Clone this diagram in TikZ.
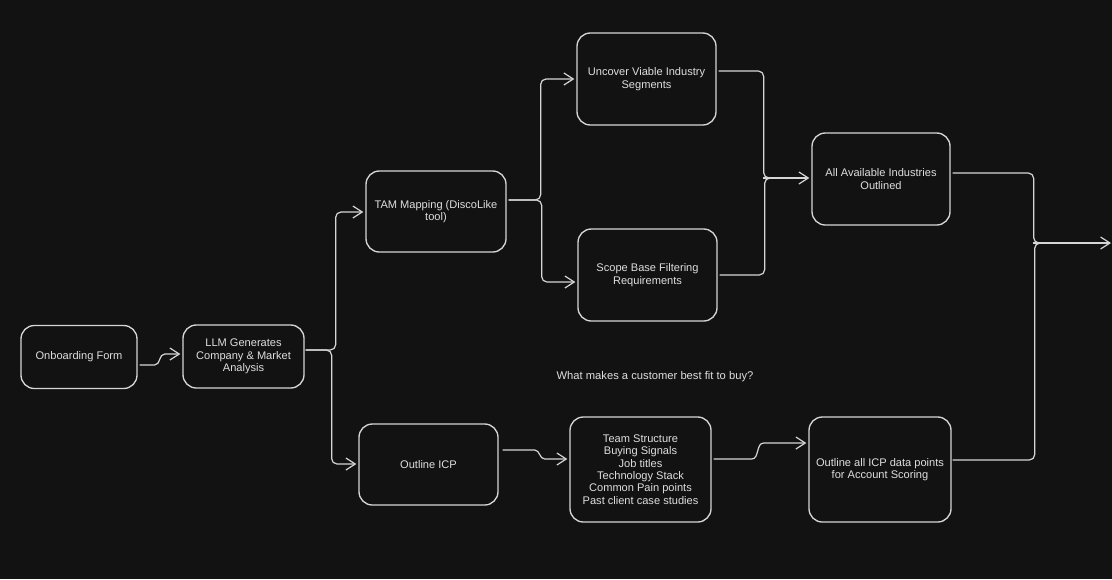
\documentclass[tikz,border=0pt]{standalone}
\usepackage{fontspec}
\setmainfont{Liberation Sans}
\usetikzlibrary{arrows.meta,calc}
\definecolor{bg}{HTML}{121212}
\definecolor{ink}{HTML}{D6D6D6}
\definecolor{txt}{HTML}{DEDEDE}
\begin{document}
\begin{tikzpicture}[x=0.75pt,y=-0.75pt,
  box/.style={draw=ink, line width=1pt, fill=bg, rounded corners=10pt, align=center,
    text=txt, font=\fontsize{8.3}{9.3}\selectfont, inner sep=2pt},
  tip/.style={-{Straight Barb[length=7pt,width=9pt,line width=0.9pt]}},
  conn/.style={draw=ink, line width=0.9pt, rounded corners=4pt, tip},
  curvy/.style={draw=ink, line width=0.9pt, tip},
  plain/.style={draw=ink, line width=0.9pt, rounded corners=4pt}]
\fill[bg] (0,0) rectangle (1112,579);
\useasboundingbox (0,0) rectangle (1112,579);

\node[box, minimum width=87pt, minimum height=47.25pt] (onb) at (79,357) {Onboarding Form};
\node[box, minimum width=90.75pt, minimum height=47.25pt] (llm) at (243.5,356.5) {LLM Generates\\Company \& Market\\Analysis};
\node[box, minimum width=105pt, minimum height=60.75pt] (tam) at (436,211.5) {TAM Mapping (DiscoLike\\tool)};
\node[box, minimum width=104.25pt, minimum height=69pt] (unc) at (646.5,79) {Uncover Viable Industry\\Segments};
\node[box, minimum width=104.25pt, minimum height=69pt] (scope) at (647.5,275) {Scope Base Filtering\\Requirements};
\node[box, minimum width=103.5pt, minimum height=69pt] (all) at (881,179) {All Available Industries\\Outlined};
\node[box, minimum width=104.25pt, minimum height=60.75pt] (icp) at (428.5,464.5) {Outline ICP};
\node[box, minimum width=105.75pt, minimum height=78.75pt] (team) at (640.5,469.5) {Team Structure\\Buying Signals\\Job titles\\Technology Stack\\Common Pain points\\Past client case studies};
\node[box, minimum width=106.5pt, minimum height=78.75pt] (oall) at (880,469.5) {Outline all ICP data points\\for Account Scoring};
\node[text=txt, font=\fontsize{8.4}{9.3}\selectfont] (q) at (655,377) {What makes a customer best fit to buy?};
\coordinate (out) at (1111,243);

% Onboarding -> LLM
\draw[curvy] ($(onb.east)+(2,8)$) -- ++(15,0) to[out=0,in=180] ++(10,-11) -- ($(llm.west)+(-2,-2.5)$);
% LLM -> TAM / ICP
\draw[conn] ($(llm.east)+(1,-6.5)$) -- ++(30,0) |- ($(tam.west)+(-2,0.5)$);
\draw[conn] ($(llm.east)+(1,-6.5)$) -- ++(26,0) |- ($(icp.west)+(-2,-0.5)$);
% TAM -> Uncover / Scope
\draw[conn] ($(tam.east)+(2,-11.5)$) -- ++(32,0) |- ($(unc.west)+(-2,0)$);
\draw[conn] ($(tam.east)+(2,-11.5)$) -- ++(33,0) |- ($(scope.west)+(-2,7)$);
% Uncover / Scope -> All
\draw[plain] ($(unc.east)+(2,-8)$) -- ++(45,0) |- ($(all.west)+(-25,-1)$);
\draw[plain] ($(scope.east)+(2,0)$) -- ++(45,0) |- ($(all.west)+(-25,-1)$);
\draw[conn] ($(all.west)+(-48,-1)$) -- ($(all.west)+(-2,-1)$);
% ICP -> Team -> Outline all
\draw[curvy] ($(icp.east)+(4,-14.5)$) -- ++(32,0) to[out=0,in=180] ++(10,9) -- ($(team.west)+(-2,-10.5)$);
\draw[curvy] ($(team.east)+(2,-10.5)$) -- ++(38,0) to[out=0,in=180] ++(12,-16) -- ($(oall.west)+(-2,-26.5)$);
% All / Outline all -> out
\draw[plain] ($(all.east)+(2,-6)$) -- ++(81,0) |- ($(out)+(-70,0)$);
\draw[plain] ($(oall.east)+(1,-9.5)$) -- ++(82,0) |- ($(out)+(-70,0)$);
\draw[conn] ($(out)+(-78,0)$) -- (out);
\end{tikzpicture}
\end{document}
